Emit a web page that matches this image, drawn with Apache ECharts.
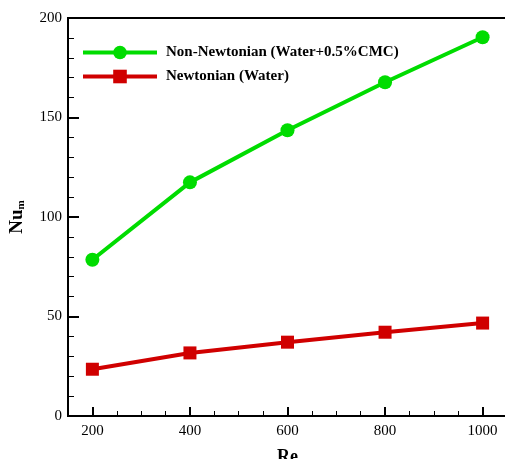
<!DOCTYPE html>
<html>
<head>
<meta charset="utf-8">
<script src="https://cdn.jsdelivr.net/npm/echarts@6/dist/echarts.min.js"></script>
<style>
  html, body { margin: 0; padding: 0; background: #fff; }
  #chart { width: 505px; height: 459px; }
</style>
</head>
<body>
<div id="chart"></div>
<script>
// Reynolds number vs mean Nusselt number
const reValues = [200, 400, 600, 800, 1000];
const nuNonNewtonian = [78.5, 117.4, 143.6, 167.7, 190.3];
const nuNewtonian = [23.5, 31.7, 37.1, 42.1, 46.7];
const xMajorTicks = [200, 400, 600, 800, 1000];
const seriesNames = ["Non-Newtonian (Water+0.5%CMC)", "Newtonian (Water)"];

const serif = "'Liberation Serif', 'Times New Roman', serif";
const green = "#00dc00";
const red = "#d00000";

const pairs = (ys) => reValues.map((x, i) => [x, ys[i]]);

const chart = echarts.init(document.getElementById("chart"));

chart.setOption({
  animation: false,
  grid: {
    left: 68, top: 18, right: -2, bottom: 43,
    outerBoundsMode: "none", containLabel: false,
    show: true, borderColor: "#000", borderWidth: 2
  },
  legend: {
    left: 81, top: 45, padding: 0, orient: "vertical",
    itemWidth: 74, itemHeight: 17, itemGap: 9,
    lineStyle: { width: 4 },
    textStyle: {
      fontFamily: serif, fontWeight: "bold", fontSize: 15, color: "#000",
      padding: [0, 0, 0, 4]
    },
    data: seriesNames
  },
  xAxis: [
    {
      type: "value", min: 150, max: 1050,
      name: "Re", nameLocation: "middle", nameGap: 32,
      nameTextStyle: { fontFamily: serif, fontWeight: "bold", fontSize: 18, color: "#000" },
      axisLine: { lineStyle: { color: "#000", width: 2 } },
      axisTick: { inside: true, length: 9, customValues: xMajorTicks, lineStyle: { color: "#000", width: 2 } },
      axisLabel: {
        customValues: xMajorTicks, formatter: (v) => String(v),
        fontFamily: serif, fontSize: 15, color: "#000", margin: 8
      },
      splitLine: { show: false }
    },
    {
      type: "value", min: 150, max: 1050, interval: 50,
      position: "bottom",
      axisLine: { show: false },
      axisTick: { inside: true, length: 5, lineStyle: { color: "#000", width: 1 } },
      axisLabel: { show: false },
      splitLine: { show: false }
    }
  ],
  yAxis: {
    type: "value", min: 0, max: 200, interval: 50,
    name: "Nu{sub|m}", nameLocation: "middle", nameGap: 41, nameRotate: 90,
    nameTextStyle: {
      fontFamily: serif, fontWeight: "bold", fontSize: 19, color: "#000",
      rich: {
        sub: { fontFamily: serif, fontWeight: "bold", fontSize: 11, color: "#000", verticalAlign: "bottom", padding: [9, 0, 0, 0] }
      }
    },
    axisLine: { lineStyle: { color: "#000", width: 2 } },
    axisTick: { inside: true, length: 11, lineStyle: { color: "#000", width: 2 } },
    minorTick: { show: true, splitNumber: 5, length: 6, lineStyle: { color: "#000", width: 1 } },
    axisLabel: { fontFamily: serif, fontSize: 15, color: "#000", margin: 6 },
    splitLine: { show: false }
  },
  series: [
    {
      name: seriesNames[0], type: "line", data: pairs(nuNonNewtonian),
      symbol: "circle", symbolSize: 14,
      lineStyle: { color: green, width: 4 },
      itemStyle: { color: green }
    },
    {
      name: seriesNames[1], type: "line", data: pairs(nuNewtonian),
      symbol: "rect", symbolSize: 13,
      lineStyle: { color: red, width: 4 },
      itemStyle: { color: red }
    }
  ]
});
</script>
</body>
</html>
